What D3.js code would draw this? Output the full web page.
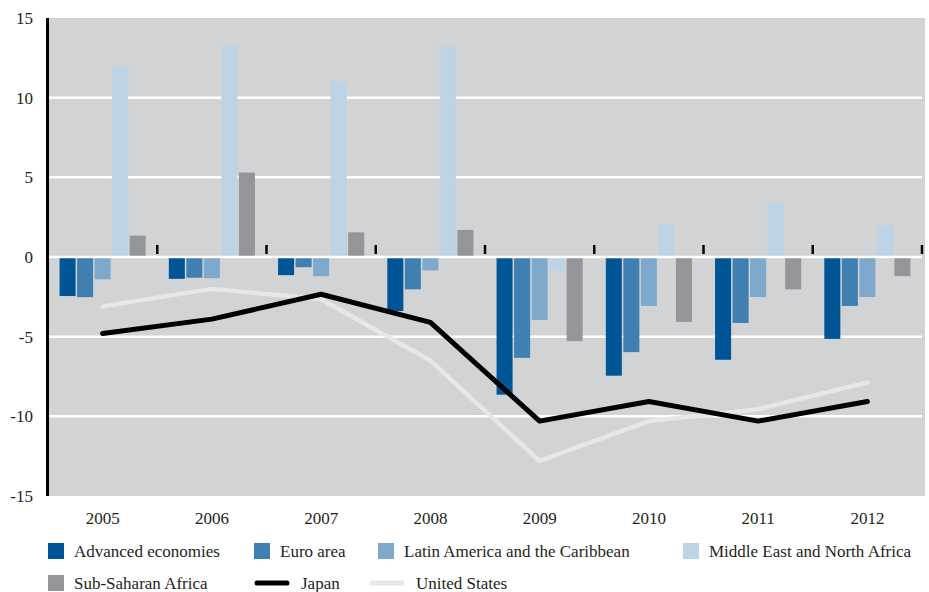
<!DOCTYPE html>
<html><head><meta charset="utf-8">
<script src="https://cdn.jsdelivr.net/npm/d3@7"></script>
<style>body{margin:0;background:#fff}</style>
</head><body><div id="wrap"></div>
<script>
const years = ["2005","2006","2007","2008","2009","2010","2011","2012"];
const barSeries = ["Advanced economies","Euro area","Latin America and the Caribbean","Middle East and North Africa","Sub-Saharan Africa"];
const advanced = [-2.45,-1.37,-1.14,-3.39,-8.64,-7.45,-6.45,-5.14];
const euroArea = [-2.52,-1.3,-0.64,-2.03,-6.33,-5.97,-4.14,-3.07];
const latinAmerica = [-1.4,-1.33,-1.2,-0.84,-3.95,-3.07,-2.51,-2.51];
const menaRegion = [12.0,13.3,11.0,13.2,-0.84,2.0,3.35,1.97];
const subSaharan = [1.34,5.3,1.55,1.7,-5.28,-4.07,-2.03,-1.2];
const japan = [-4.8,-3.9,-2.34,-4.1,-10.3,-9.07,-10.3,-9.07];
const unitedStates = [-3.1,-2.0,-2.65,-6.5,-12.8,-10.3,-9.55,-7.87];
const yTicks = [15,10,5,0,-5,-10,-15];

const barValues = [advanced, euroArea, latinAmerica, menaRegion, subSaharan];
const barColors = ["#005596","#3f7fb1","#7ea9cc","#bcd4e6","#939598"];
const japanColor = "#000000", usColor = "#e6e7e8";

const svg = d3.select("#wrap").append("svg").attr("width", 929).attr("height", 592).style("display", "block");
const x = d3.scaleBand().domain(years).range([48, 922]).padding(0);
const xs = d3.scaleBand().domain(barSeries).range([0, x.bandwidth()]).paddingInner(0.086).paddingOuter(0.66);
const y = d3.scaleLinear().domain([-15, 15]).range([496, 18]);

svg.append("rect").attr("x", 48).attr("y", y(15)).attr("width", 922 - 48 + 3).attr("height", y(-15) - y(15)).attr("fill", "#d1d3d4");

svg.append("g").selectAll("line").data(yTicks.filter(v => v !== 0 && Math.abs(v) !== 15)).join("line")
  .attr("x1", 49).attr("x2", 922).attr("y1", d => y(d)).attr("y2", d => y(d))
  .attr("stroke", "#fff").attr("stroke-width", 2.5);

const rows = [];
barValues.forEach((arr, si) => arr.forEach((v, i) => rows.push({s: barSeries[si], si, year: years[i], v})));
svg.append("g").selectAll("rect").data(rows).join("rect")
  .attr("x", d => x(d.year) + xs(d.s))
  .attr("width", xs.bandwidth())
  .attr("y", d => y(Math.max(0, d.v)))
  .attr("height", d => Math.abs(y(d.v) - y(0)))
  .attr("fill", d => barColors[d.si]);

svg.append("line").attr("x1", 49).attr("x2", 922).attr("y1", y(0)).attr("y2", y(0)).attr("stroke", "#fff").attr("stroke-width", 2.5);

svg.append("g").selectAll("line").data(years).join("line")
  .attr("x1", d => x(d) + x.bandwidth()).attr("x2", d => x(d) + x.bandwidth())
  .attr("y1", y(0) - 12).attr("y2", y(0) - 3)
  .attr("stroke", "#000").attr("stroke-width", 2.5);

const line = d3.line().x((d, i) => x(years[i]) + x.bandwidth() / 2).y(d => y(d));
svg.append("path").datum(unitedStates).attr("d", line).attr("fill", "none").attr("stroke", usColor).attr("stroke-width", 4.5).attr("stroke-linecap", "round").attr("stroke-linejoin", "round");
svg.append("path").datum(japan).attr("d", line).attr("fill", "none").attr("stroke", japanColor).attr("stroke-width", 5).attr("stroke-linecap", "round").attr("stroke-linejoin", "round");

// y axis line
svg.append("line").attr("x1", 47.5).attr("x2", 47.5).attr("y1", y(15)).attr("y2", y(-15)).attr("stroke", "#000").attr("stroke-width", 3);
// y labels (manual text, DejaVu Serif)
svg.append("g").selectAll("text").data(yTicks).join("text")
  .attr("x", 33).attr("y", d => y(d)).attr("dy", "0.35em").attr("text-anchor", "end")
  .style("font-family", "Liberation Serif").style("font-size", "17px").attr("fill", "#231f20")
  .text(d => String(d));
// x labels
svg.append("g").selectAll("text").data(years).join("text")
  .attr("x", d => x(d) + x.bandwidth() / 2).attr("y", 518).attr("dy", "0.35em").attr("text-anchor", "middle")
  .style("font-family", "Liberation Serif").style("font-size", "17px").attr("fill", "#231f20")
  .text(d => d);

const legendItems = [
  {label: barSeries[0], type: "rect", color: barColors[0], x: 48, y: 551},
  {label: barSeries[1], type: "rect", color: barColors[1], x: 254, y: 551},
  {label: barSeries[2], type: "rect", color: barColors[2], x: 378, y: 551},
  {label: barSeries[3], type: "rect", color: barColors[3], x: 683, y: 551},
  {label: barSeries[4], type: "rect", color: barColors[4], x: 48, y: 583},
  {label: "Japan", type: "line", color: japanColor, x: 257, y: 583},
  {label: "United States", type: "line", color: usColor, x: 372, y: 583}
];
const lg = svg.append("g").selectAll("g").data(legendItems).join("g").attr("transform", d => `translate(${d.x},${d.y})`);
lg.filter(d => d.type === "rect").append("rect").attr("x", 0).attr("y", -8).attr("width", 16).attr("height", 16).attr("fill", d => d.color);
lg.filter(d => d.type === "line").append("line").attr("x1", 0).attr("x2", 30).attr("y1", 0).attr("y2", 0)
  .attr("stroke", d => d.color).attr("stroke-width", 5).attr("stroke-linecap", "round");
lg.append("text").attr("x", d => d.type === "rect" ? 26 : 44).attr("y", 0).attr("dy", "0.35em")
  .style("font-family", "Liberation Serif").style("font-size", "17px").attr("fill", "#231f20").text(d => d.label);
</script></body></html>
